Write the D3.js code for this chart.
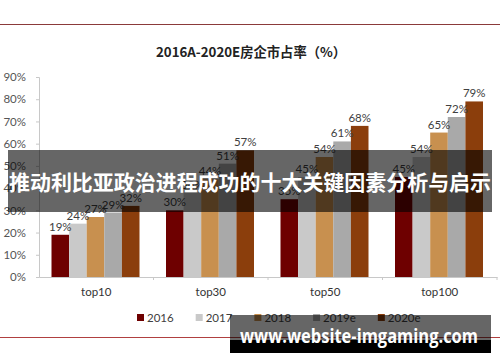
<!DOCTYPE html>
<html>
<head>
<meta charset="utf-8">
<script src="https://cdn.jsdelivr.net/npm/d3@7"></script>
<style>
  body { margin: 0; background: #fff; }
  svg { display: block; font-family: Lato, "Noto Sans CJK SC", sans-serif; }
</style>
</head>
<body>
<div id="chart"></div>
<script>
const categories = ['top10', 'top30', 'top50', 'top100'];
const seriesNames = ['2016', '2017', '2018', '2019e', '2020e'];
const values2016 = [19, 30, 35, 45];
const values2017 = [24, 38, 45, 54];
const values2018 = [27, 44, 54, 65];
const values2019e = [29, 51, 61, 72];
const values2020e = [32, 57, 68, 79];
const yTicks = [0, 10, 20, 30, 40, 50, 60, 70, 80, 90];
const colors = ['#6e0000', '#c9c9c9', '#c8904f', '#a9a9a9', '#8b3e0c'];

const seriesValues = [values2016, values2017, values2018, values2019e, values2020e];
const data = categories.map((c, i) => ({
    category: c,
    bars: seriesNames.map((s, j) => ({ series: s, value: seriesValues[j][i] }))
}));

let width = 500;
let height = 362;

let margin = { top: 77, right: 3, bottom: 85, left: 39 };

let svg = d3.select('#chart').append('svg')
    .attr('width', width)
    .attr('height', height);

// frame lines
svg.append('line')
    .attr('x1', 0).attr('x2', width)
    .attr('y1', 24.5).attr('y2', 24.5)
    .attr('stroke', '#8b3a3a').attr('stroke-width', 1.2);

svg.append('line')
    .attr('x1', 0).attr('x2', width)
    .attr('y1', 337.5).attr('y2', 337.5)
    .attr('stroke', '#b04040').attr('stroke-width', 1);

svg.append('text')
    .attr('x', 251).attr('y', 57)
    .attr('text-anchor', 'middle')
    .attr('font-family', '"Noto Sans CJK SC", sans-serif')
    .attr('font-weight', 'bold')
    .attr('font-size', 13.5)
    .attr('textLength', 190)
    .attr('lengthAdjust', 'spacingAndGlyphs')
    .attr('fill', '#222')
    .text('2016A-2020E房企市占率（%）');

let x0 = d3.scaleBand()
    .domain(categories)
    .range([margin.left, width - margin.right]);

let x1 = d3.scaleBand()
    .domain(seriesNames)
    .range([12.5, 100.5]);

let y = d3.scaleLinear()
    .domain([0, 90])
    .range([height - margin.bottom, margin.top]);

// y axis
let yAxis = svg.append('g')
    .attr('transform', `translate(${margin.left},0)`)
    .call(d3.axisLeft(y).tickValues(yTicks).tickSize(3).tickFormat(d => d + '%'));
yAxis.select('.domain').attr('stroke', '#c8c8c8');
yAxis.selectAll('.tick line').attr('stroke', '#c8c8c8');
yAxis.selectAll('.tick text')
    .attr('x', -13)
    .attr('font-size', 11.5)
    .attr('font-family', 'Lato, sans-serif')
    .attr('fill', '#555');

// x axis
let xAxis = svg.append('g')
    .attr('transform', `translate(0,${y(0)})`)
    .call(d3.axisBottom(x0).tickSize(0).tickPadding(11));
xAxis.select('.domain').attr('stroke', '#c8c8c8');
xAxis.selectAll('.tick text')
    .attr('font-size', 11.5)
    .attr('font-family', 'Lato, sans-serif')
    .attr('fill', '#333');
svg.append('g')
    .selectAll('line')
    .data(categories)
    .join('line')
        .attr('x1', d => x0(d) + x0.bandwidth())
        .attr('x2', d => x0(d) + x0.bandwidth())
        .attr('y1', y(0))
        .attr('y2', y(0) + 3)
        .attr('stroke', '#c8c8c8');

// bars
let group = svg.append('g')
    .selectAll('g')
    .data(data)
    .join('g')
        .attr('transform', d => `translate(${x0(d.category)},0)`);

group.selectAll('rect')
    .data(d => d.bars)
    .join('rect')
        .attr('x', d => x1(d.series))
        .attr('y', d => y(d.value))
        .attr('width', x1.bandwidth())
        .attr('height', d => y(0) - y(d.value))
        .attr('fill', (d, i) => colors[i]);

group.selectAll('text')
    .data(d => d.bars)
    .join('text')
        .attr('x', d => x1(d.series) + x1.bandwidth() / 2)
        .attr('y', d => y(d.value) - 4)
        .attr('text-anchor', 'middle')
        .attr('font-size', 11.5)
        .attr('fill', '#404040')
        .text(d => d.value + '%');

// legend
let legend = svg.append('g').attr('transform', 'translate(137,314)');
let lx = 0;
seriesNames.forEach((s, i) => {
    let item = legend.append('g').attr('transform', `translate(${lx},0)`);
    item.append('rect')
        .attr('width', 7).attr('height', 7)
        .attr('fill', colors[i]);
    let t = item.append('text')
        .attr('x', 10).attr('y', 7.5)
        .attr('font-size', 11.5)
        .attr('fill', '#404040')
        .text(s);
    lx += 10 + t.node().getComputedTextLength() + 22;
});

// overlay banner
svg.append('rect')
    .attr('x', 8).attr('y', 150)
    .attr('width', 484).attr('height', 62)
    .attr('fill', 'rgba(0,0,0,0.6)');

svg.append('text')
    .attr('x', 9).attr('y', 190)
    .attr('font-family', '"Noto Sans CJK SC", sans-serif')
    .attr('font-weight', 'bold')
    .attr('font-size', 21)
    .attr('textLength', 482)
    .attr('lengthAdjust', 'spacingAndGlyphs')
    .attr('fill', '#fff')
    .text('推动利比亚政治进程成功的十大关键因素分析与启示');

// watermark
svg.append('rect')
    .attr('x', 230).attr('y', 315)
    .attr('width', 261).attr('height', 25)
    .attr('fill', 'rgba(0,0,0,0.6)');
svg.append('rect')
    .attr('x', 230).attr('y', 340)
    .attr('width', 261).attr('height', 13)
    .attr('fill', '#000');
svg.append('text')
    .attr('x', 240).attr('y', 343)
    .attr('font-family', '"Open Sans", sans-serif')
    .attr('font-weight', 'bold')
    .attr('font-size', 19)
    .attr('textLength', 238)
    .attr('lengthAdjust', 'spacingAndGlyphs')
    .attr('fill', '#fff')
    .text('www.website-imgaming.com');
</script>
</body>
</html>
